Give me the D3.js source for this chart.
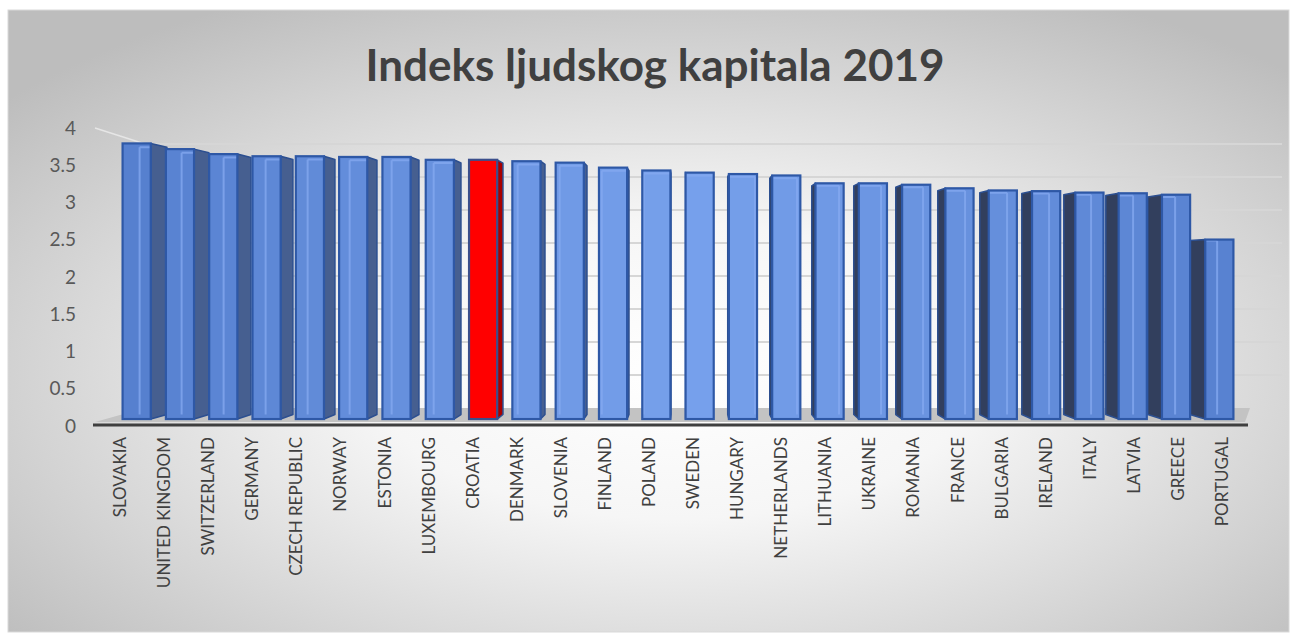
<!doctype html>
<html lang="hr">
<head>
<meta charset="utf-8">
<title>Indeks ljudskog kapitala 2019</title>
<script src="https://d3js.org/d3.v7.min.js"></script>
<style>
  body { margin: 0; background: #fff; }
  text { font-family: Lato, "Open Sans", sans-serif; }
</style>
</head>
<body>
<svg id="chart" width="1297" height="637"></svg>
<script>
var countries = ["SLOVAKIA", "UNITED KINGDOM", "SWITZERLAND", "GERMANY", "CZECH REPUBLIC", "NORWAY",
  "ESTONIA", "LUXEMBOURG", "CROATIA", "DENMARK", "SLOVENIA", "FINLAND", "POLAND", "SWEDEN",
  "HUNGARY", "NETHERLANDS", "LITHUANIA", "UKRAINE", "ROMANIA", "FRANCE", "BULGARIA", "IRELAND",
  "ITALY", "LATVIA", "GREECE", "PORTUGAL"];
var values = [3.87, 3.79, 3.72, 3.69, 3.69, 3.68, 3.68, 3.64, 3.64, 3.62, 3.60, 3.53, 3.49, 3.46,
  3.44, 3.42, 3.31, 3.31, 3.29, 3.24, 3.21, 3.20, 3.18, 3.17, 3.15, 2.52];
var yTicks = [0, 0.5, 1, 1.5, 2, 2.5, 3, 3.5, 4];
var highlight = "CROATIA";

var svg = d3.select("#chart");

// perspective settings (eye point, depth ratios)
var vx = 690, vy = 268;
var kFront = 0.956;   // bar front faces
var kDepth = 0.97;    // bar back faces relative to front
var kWall = 0.886;    // back wall

var yAxis = d3.scaleLinear().domain([0, 4]).range([426, 128]);
function yBar(v) { return vy + (yAxis(v) - vy) * kFront; }
function yWall(v) { return vy + (yAxis(v) - vy) * kWall; }
function back(x, y) { return [vx + (x - vx) * kDepth, vy + (y - vy) * kDepth]; }

var xLabel = d3.scaleBand().domain(countries).range([98, 1244]);
var xBar = d3.scaleBand().domain(countries).range([115, 1241]).paddingInner(0.35).paddingOuter(0.175);

// background
var defs = svg.append("defs");
var grad = defs.append("radialGradient").attr("id", "bg")
  .attr("cx", "52%").attr("cy", "58%").attr("r", "68%");
grad.append("stop").attr("offset", "0%").attr("stop-color", "#ffffff");
grad.append("stop").attr("offset", "35%").attr("stop-color", "#f6f6f6");
grad.append("stop").attr("offset", "100%").attr("stop-color", "#bdbdbd");

svg.append("rect").attr("x", 8).attr("y", 10).attr("width", 1281).attr("height", 622)
  .attr("fill", "url(#bg)").attr("stroke", "#d9d9d9");

// title
svg.append("text").attr("x", 655).attr("y", 81).attr("text-anchor", "middle")
  .style("font-size", "44px").style("font-weight", "bold").attr("fill", "#404040")
  .text("Indeks ljudskog kapitala 2019");

// back wall gridlines + side wall edge
var wallLeft = 145, wallRight = 1282;
svg.append("g").selectAll("line").data(yTicks.slice(1)).enter().append("line")
  .attr("x1", wallLeft).attr("x2", wallRight)
  .attr("y1", function(d) { return yWall(d); }).attr("y2", function(d) { return yWall(d); })
  .attr("stroke", "#d6d6d6").attr("stroke-width", 2);
svg.append("line").attr("x1", 95).attr("y1", yAxis(4)).attr("x2", wallLeft).attr("y2", yWall(4))
  .attr("stroke", "#e6e6e6").attr("stroke-width", 1.5);

// floor
svg.append("path")
  .attr("d", "M95," + 422 + "L1245," + 422 + "L1250," + yWall(0) + "L" + wallLeft + "," + yWall(0) + "Z")
  .attr("fill", "#c3c3c3");
svg.append("line").attr("x1", 93).attr("x2", 1248).attr("y1", 425).attr("y2", 425)
  .attr("stroke", "#3f3f3f").attr("stroke-width", 3);

// bars
var bars = countries.map(function(c, i) {
  var xl = xBar(c), xr = xl + xBar.bandwidth();
  return { name: c, value: values[i], xl: xl, xr: xr, yt: yBar(values[i]), yb: yBar(0) };
});

var gSide = svg.append("g"), gFront = svg.append("g"), gInner = svg.append("g"), gEdge = svg.append("g");

bars.forEach(function(b) {
  var red = b.name === highlight;
  var cx = (b.xl + b.xr) / 2;
  var sideX = cx < vx ? b.xr : b.xl;
  var bt = back(sideX, b.yt), bb = back(sideX, b.yb);
  var sideCol = red ? "#a80000" : (cx < vx ? "#465f90" : "#323f5d");
  gSide.append("path")
    .attr("d", "M" + sideX + "," + b.yt + "L" + bt[0] + "," + bt[1] + "L" + bb[0] + "," + bb[1] + "L" + sideX + "," + b.yb + "Z")
    .attr("fill", sideCol).attr("stroke", "#2c4f90").attr("stroke-width", 1.5).attr("stroke-linejoin", "round");

  var t = Math.max(0, 1 - Math.abs(cx - vx) / 560);
  var frontCol = red ? "#ff0000" : d3.interpolateRgb("#5680cf", "#77a1ec")(t);
  gFront.append("rect").attr("x", b.xl).attr("y", b.yt).attr("width", b.xr - b.xl).attr("height", b.yb - b.yt)
    .attr("fill", frontCol);

  // back face edges seen through the front face
  if (!red) {
    var bl = back(b.xl, b.yt), br = back(b.xr, b.yt), blb = back(b.xl, b.yb);
    var x0 = Math.max(bl[0], b.xl), x1 = Math.min(br[0], b.xr);
    var p = "M" + x0 + "," + bl[1] + "L" + x1 + "," + bl[1];
    if (bl[0] > b.xl + 1) p += "M" + bl[0] + "," + bl[1] + "L" + bl[0] + "," + blb[1];
    if (br[0] < b.xr - 1) p += "M" + br[0] + "," + br[1] + "L" + br[0] + "," + blb[1];
    gInner.append("path").attr("d", p).attr("fill", "none")
      .attr("stroke", "#86aaf0").attr("stroke-opacity", 0.75).attr("stroke-width", 2);
  }

  gEdge.append("rect").attr("x", b.xl).attr("y", b.yt).attr("width", b.xr - b.xl).attr("height", b.yb - b.yt)
    .attr("fill", "none").attr("stroke", red ? "#3b4f8c" : "#2e58a6").attr("stroke-width", 2.2);
});

// y axis labels
svg.append("g").selectAll("text").data(yTicks).enter().append("text")
  .attr("x", 76).attr("y", function(d) { return yAxis(d); }).attr("dy", "0.35em")
  .attr("text-anchor", "end").style("font-size", "19px").attr("fill", "#595959")
  .text(function(d) { return String(d); });

// x axis labels
svg.append("g").selectAll("text").data(countries).enter().append("text")
  .attr("transform", function(d) {
    return "translate(" + (xLabel(d) + xLabel.bandwidth() / 2 + 6) + ",437) rotate(-90)";
  })
  .attr("text-anchor", "end").style("font-size", "17px").attr("fill", "#404040")
  .text(function(d) { return d; });
</script>
</body>
</html>
